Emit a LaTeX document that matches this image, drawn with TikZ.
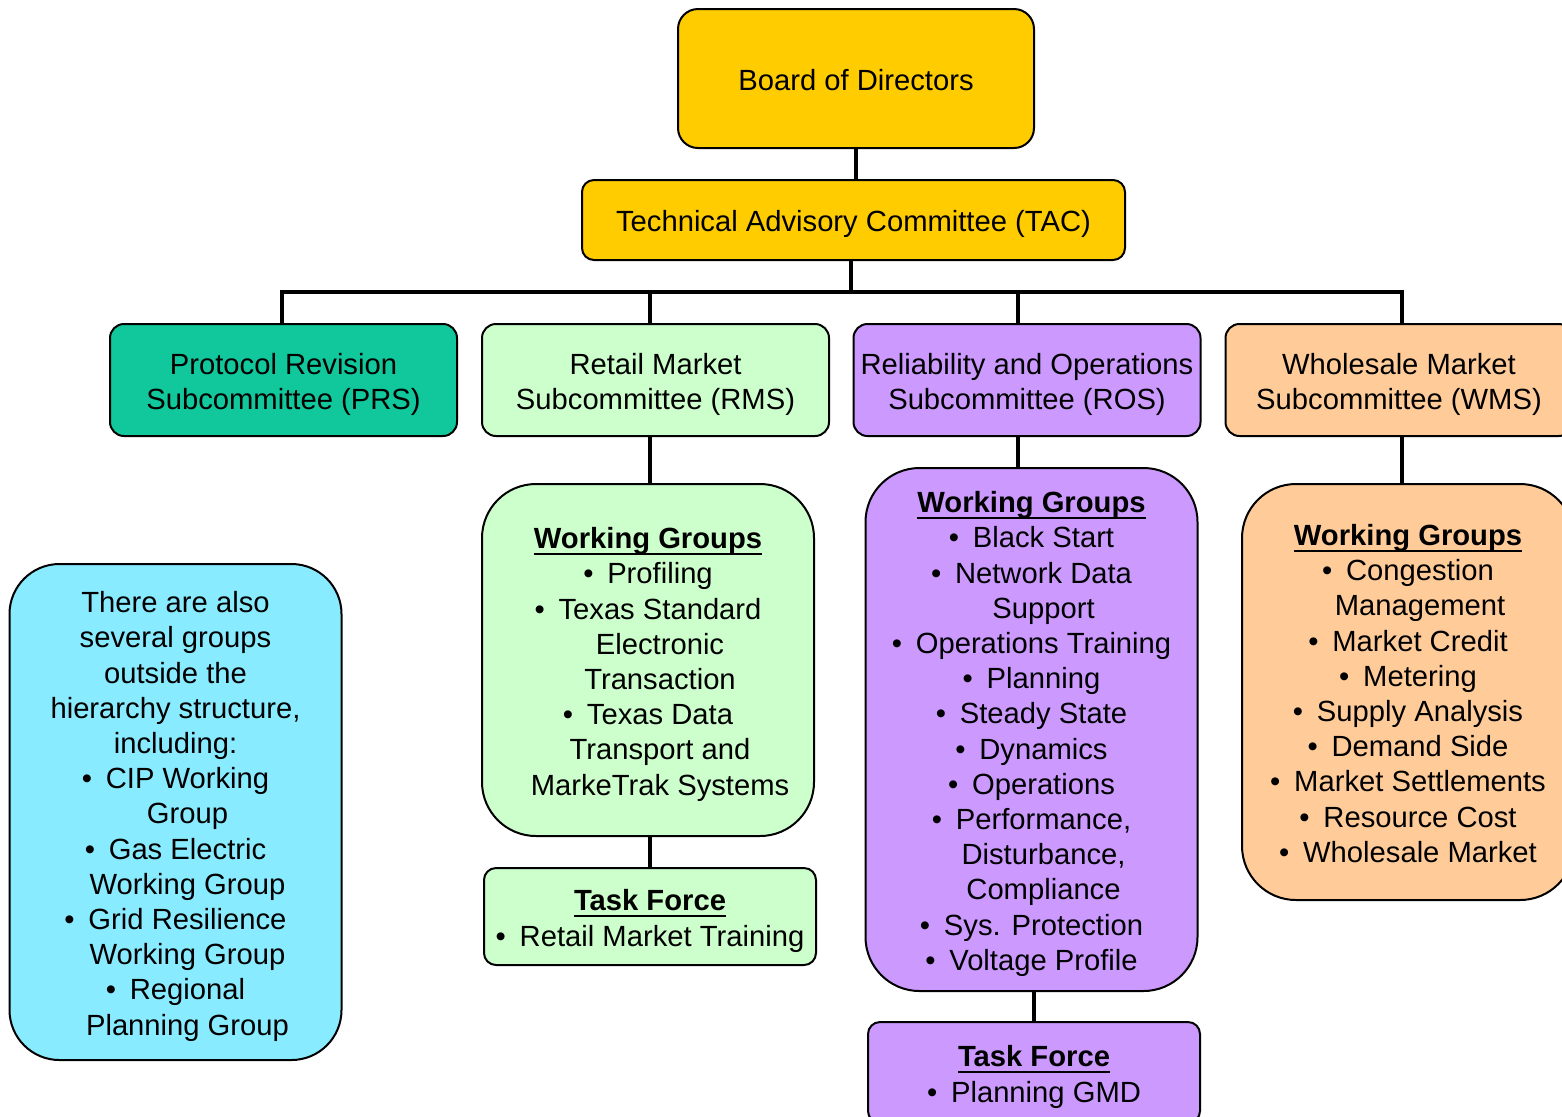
\documentclass[tikz,border=0pt]{standalone}
\usepackage{fontspec}
\setmainfont{Liberation Sans}
\usetikzlibrary{backgrounds}
\definecolor{cyellow}{HTML}{FFCC00}
\definecolor{cteal}{HTML}{11C79C}
\definecolor{cgreen}{HTML}{CCFFCC}
\definecolor{cpurple}{HTML}{CC99FF}
\definecolor{cpeach}{HTML}{FFCC99}
\definecolor{ccyan}{HTML}{89EBFF}
\newcommand{\bul}{\textbullet\hspace{6.9pt}}
\newcommand{\cont}{\hspace*{12pt}}
\newcommand{\tst}{\rule{0pt}{16pt}}
\newcommand{\bst}{\rule[-4.1pt]{0pt}{0pt}}
\newcommand{\ulh}[1]{\setbox0\hbox{\textbf{#1}}\rlap{\rule[-3.3pt]{\wd0}{1.2pt}}\box0}
\begin{document}
\begin{tikzpicture}[x=0.5pt,y=-0.5pt,
  box/.style={draw=black, line width=1pt, align=center, inner sep=0pt,
    font=\fontsize{14.6pt}{17.6pt}\selectfont},
  sub/.style={box, minimum width=173.5pt, minimum height=56pt, rounded corners=7pt},
  grp/.style={box, minimum width=166pt, rounded corners=27pt},
  tf/.style={box, minimum width=166pt, rounded corners=6pt},
  conn/.style={draw=black, line width=2pt}]
\useasboundingbox (0,0) rectangle (1562,1116);
\clip (0,0) rectangle (1562,1116);
\node[box, fill=cyellow, minimum width=178pt, minimum height=69.5pt, rounded corners=10pt] (board) at (856,78.5) {\tst Board of Directors\bst};
\node[box, fill=cyellow, minimum width=271.5pt, minimum height=40pt, rounded corners=6pt] (tac) at (853.5,220) {\tst Technical Advisory Committee (TAC)\bst};
\node[sub, fill=cteal] (prs) at (283.5,380) {\tst Protocol Revision\\Subcommittee (PRS)\bst};
\node[sub, fill=cgreen] (rms) at (655.5,380) {\tst Retail Market\\Subcommittee (RMS)\bst};
\node[sub, fill=cpurple] (ros) at (1027,380) {\tst Reliability and Operations\\Subcommittee (ROS)\bst};
\node[sub, fill=cpeach] (wms) at (1399,380) {\tst Wholesale Market\\Subcommittee (WMS)\bst};
\node[grp, fill=cgreen, minimum height=176pt] (rmswg) at (648,660) {\tst\ulh{Working Groups}\\\bul Profiling\\\bul Texas Standard\\\cont Electronic\\\cont Transaction\\\bul Texas Data\\\cont Transport and\\\cont MarkeTrak Systems\bst};
\node[grp, fill=cpurple, minimum height=261.5pt] (roswg) at (1031.5,729.5) {\tst\ulh{Working Groups}\\\bul Black Start\\\bul Network Data\\\cont Support\\\bul Operations Training\\\bul Planning\\\bul Steady State\\\bul Dynamics\\\bul Operations\\\bul Performance,\\\cont Disturbance,\\\cont Compliance\\\bul Sys. Protection\\\bul Voltage Profile\bst};
\node[grp, fill=cpeach, minimum height=208pt] (wmswg) at (1408,692) {\tst\ulh{Working Groups}\\\bul Congestion\\\cont Management\\\bul Market Credit\\\bul Metering\\\bul Supply Analysis\\\bul Demand Side\\\bul Market Settlements\\\bul Resource Cost\\\bul Wholesale Market\bst};
\node[grp, fill=ccyan, minimum height=248pt, rounded corners=25pt] (other) at (175.5,812) {\tst There are also\\several groups\\outside the\\hierarchy structure,\\including:\\\bul CIP Working\\\cont Group\\\bul Gas Electric\\\cont Working Group\\\bul Grid Resilience\\\cont Working Group\\\bul Regional\\\cont Planning Group\bst};
\node[tf, fill=cgreen, minimum height=48.5pt] (rmstf) at (650,916.5) {\tst\ulh{Task Force}\\\bul Retail Market Training\bst};
\node[tf, fill=cpurple, minimum height=50.5pt] (rostf) at (1034,1072.5) {\tst\ulh{Task Force}\\\bul Planning GMD\bst};
\coordinate (b0) at (851,292);
\coordinate (b1) at (282,292);
\coordinate (b2) at (650,292);
\coordinate (b3) at (1018,292);
\coordinate (b4) at (1402,292);
\begin{scope}[on background layer]
\draw[conn] (board.south) -- (board.south |- tac.north);
\draw[conn] (b0 |- tac.south) -- (b0);
\draw[conn] (b1 |- prs.north) -- (b1) -- (b4) -- (b4 |- wms.north);
\draw[conn] (b2) -- (b2 |- rms.north);
\draw[conn] (b3) -- (b3 |- ros.north);
\draw[conn] (rms.south -| b2) -- (rmswg.north -| b2);
\draw[conn] (rmswg.south -| b2) -- (rmstf.north -| b2);
\draw[conn] (ros.south -| b3) -- (roswg.north -| b3);
\draw[conn] (roswg.south -| rostf.north) -- (rostf.north);
\draw[conn] (wms.south -| b4) -- (wmswg.north -| b4);
\end{scope}
\end{tikzpicture}
\end{document}
